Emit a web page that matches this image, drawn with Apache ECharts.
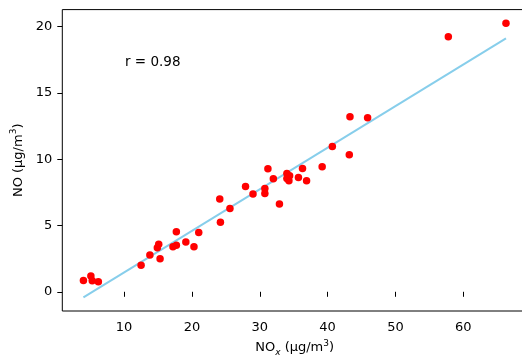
<!DOCTYPE html>
<html>
<head>
<meta charset="utf-8">
<script src="https://cdn.jsdelivr.net/npm/echarts@6/dist/echarts.min.js"></script>
<style>
html,body{margin:0;padding:0;background:#fff;}
#chart{width:522px;height:362px;}
</style>
</head>
<body>
<div id="chart"></div>
<script>
// NOx values (µg/m3)
const noxValues = [4.0, 5.1, 5.3, 6.2, 12.5, 13.8, 14.9, 15.1, 15.3, 17.2, 17.7, 17.7, 19.1, 20.3, 21.0,
  24.1, 24.2, 25.6, 27.9, 29.0, 30.75, 30.75, 31.2, 32.0, 32.9, 34.0, 34.0, 34.4, 34.3, 35.7, 36.3, 36.9,
  39.2, 40.7, 43.2, 43.3, 45.9, 57.8, 66.3];
// NO values (µg/m3)
const noValues = [0.86, 1.2, 0.83, 0.75, 2.0, 2.77, 3.32, 3.58, 2.49, 3.4, 3.52, 4.53, 3.75, 3.4, 4.48,
  7.0, 5.24, 6.29, 7.95, 7.37, 7.8, 7.42, 9.28, 8.53, 6.62, 8.93, 8.55, 8.76, 8.38, 8.63, 9.31, 8.38,
  9.43, 10.97, 10.34, 13.2, 13.13, 19.25, 20.26];
const xTicks = [10, 20, 30, 40, 50, 60];
const yTicks = [0, 5, 10, 15, 20];
const rLabel = 'r = 0.98';

// least squares fit from the data
const n = noxValues.length;
let sx = 0, sy = 0, sxx = 0, sxy = 0;
for (let i = 0; i < n; i++) {
  sx += noxValues[i]; sy += noValues[i];
  sxx += noxValues[i] * noxValues[i]; sxy += noxValues[i] * noValues[i];
}
const slope = (n * sxy - sx * sy) / (n * sxx - sx * sx);
const intercept = (sy - slope * sx) / n;
const xMinD = Math.min(...noxValues), xMaxD = Math.max(...noxValues);
const fitLine = [[xMinD, intercept + slope * xMinD], [xMaxD, intercept + slope * xMaxD]];

const points = noxValues.map((x, i) => [x, noValues[i]]);

const FONT = 'DejaVu Sans';
const chart = echarts.init(document.getElementById('chart'), null, {renderer: 'canvas'});
chart.setOption({
  animation: false,
  backgroundColor: '#fff',
  grid: {
    left: 62.3, top: 9.6, right: -5, bottom: 51,
    show: true, borderColor: '#000', borderWidth: 1,
    outerBoundsMode: 'none', containLabel: false
  },
  xAxis: {
    type: 'value', min: 0.885, max: 69.4,
    splitLine: {show: false},
    axisLine: {show: false},
    axisTick: {show: true, customValues: xTicks, length: 5, inside: false, lineStyle: {color: '#000', width: 1}},
    axisLabel: {customValues: xTicks, margin: 10, color: '#000', fontFamily: FONT, fontSize: 13},
    name: '{b|NO}{sub|x}{b| (μg/m}{sup|3}{b|)}',
    nameLocation: 'middle', nameGap: 28,
    nameTextStyle: {
      rich: {
        b: {fontFamily: FONT, fontSize: 13, color: '#000', lineHeight: 18, verticalAlign: 'middle'},
        sub: {fontFamily: FONT, fontSize: 9, fontStyle: 'italic', color: '#000', verticalAlign: 'bottom', lineHeight: 18},
        sup: {fontFamily: FONT, fontSize: 9, color: '#000', verticalAlign: 'top', lineHeight: 18}
      }
    }
  },
  yAxis: {
    type: 'value', min: -1.45, max: 21.29,
    splitLine: {show: false},
    axisLine: {show: false},
    axisTick: {show: true, customValues: yTicks, length: 5, inside: false, lineStyle: {color: '#000', width: 1}},
    axisLabel: {customValues: yTicks, margin: 10, color: '#000', fontFamily: FONT, fontSize: 13},
    name: '{b|NO (μg/m}{sup|3}{b|)}',
    nameLocation: 'middle', nameGap: 34, nameRotate: 90,
    nameTextStyle: {
      rich: {
        b: {fontFamily: FONT, fontSize: 13, color: '#000', lineHeight: 18, verticalAlign: 'middle'},
        sup: {fontFamily: FONT, fontSize: 9, color: '#000', verticalAlign: 'top', lineHeight: 18}
      }
    }
  },
  graphic: [{
    type: 'text', x: 125, y: 62,
    style: {text: rLabel, fontFamily: FONT, fontSize: 13.5, fill: '#000', verticalAlign: 'middle', align: 'left'}
  }],
  series: [
    {
      type: 'line', data: fitLine, showSymbol: false, symbol: 'none',
      lineStyle: {color: '#87ceeb', width: 2}, z: 2, silent: true
    },
    {
      type: 'scatter', data: points, symbol: 'circle', symbolSize: 7.5,
      itemStyle: {color: '#ff0000', opacity: 1}, z: 3
    }
  ]
});
</script>
</body>
</html>
